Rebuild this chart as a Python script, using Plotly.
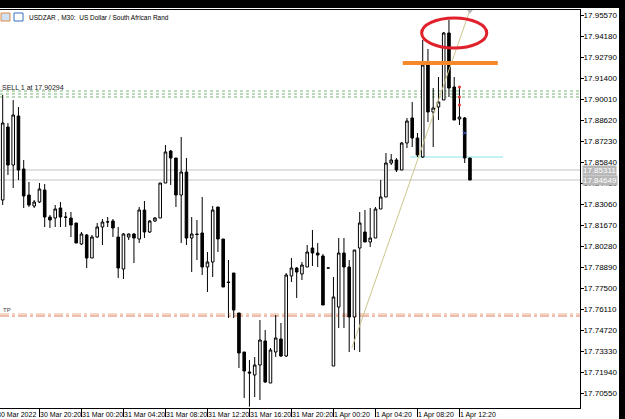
import plotly.graph_objects as go

# ---------------- data (USDZAR M30) ----------------
bar_index = list(range(90))
opens = [17.83325, 17.88157, 17.85642, 17.88885, 17.85377, 17.83656, 17.82928, 17.83193, 17.83987, 17.82200,
         17.82134, 17.82795, 17.82200, 17.82134, 17.81803, 17.80413, 17.81008, 17.79486, 17.80876, 17.81538,
         17.81869, 17.81935, 17.80876, 17.78758, 17.80876, 17.81075, 17.80744, 17.82663, 17.81207, 17.81935,
         17.82134, 17.84450, 17.86568, 17.86105, 17.83656, 17.85178, 17.80810, 17.81075, 17.81141, 17.78890,
         17.79221, 17.82862, 17.80744, 17.77897, 17.78493, 17.75846, 17.73264, 17.71940, 17.71742, 17.72404,
         17.73992, 17.71212, 17.73264, 17.74125, 17.72999, 17.78295, 17.78824, 17.78427, 17.78890, 17.80148,
         17.79817, 17.79618, 17.78824, 17.72337, 17.76243, 17.79817, 17.78890, 17.75581, 17.80148, 17.81207,
         17.80545, 17.80810, 17.82729, 17.83524, 17.85774, 17.85973, 17.85311, 17.87098, 17.88753, 17.87429,
         17.86171, 17.92261, 17.89150, 17.89481, 17.89944, 17.94379, 17.90804, 17.88686, 17.88753, 17.86105]
highs = [17.90275, 17.88422, 17.89944, 17.89481, 17.85973, 17.84516, 17.83325, 17.84450, 17.84384, 17.82332,
         17.82994, 17.83193, 17.82531, 17.82531, 17.81803, 17.81207, 17.81075, 17.81008, 17.81803, 17.82067,
         17.82200, 17.82067, 17.81538, 17.81141, 17.81100, 17.81141, 17.82862, 17.83259, 17.82001, 17.82200,
         17.84450, 17.86965, 17.86634, 17.86105, 17.87495, 17.86105, 17.82200, 17.82001, 17.83524, 17.79883,
         17.82928, 17.82862, 17.80744, 17.79354, 17.78493, 17.75846, 17.73264, 17.72735, 17.72933, 17.75382,
         17.74720, 17.73529, 17.75713, 17.75184, 17.78493, 17.79486, 17.78890, 17.79221, 17.80346, 17.81339,
         17.80479, 17.79751, 17.78824, 17.78228, 17.80810, 17.80810, 17.79354, 17.80015, 17.82531, 17.82663,
         17.82795, 17.82862, 17.84649, 17.86436, 17.86370, 17.86105, 17.87164, 17.88753, 17.89812, 17.87760,
         17.93915, 17.93320, 17.90738, 17.91466, 17.94445, 17.95239, 17.91466, 17.90804, 17.88819, 17.86105]
lows = [17.82994, 17.84980, 17.84119, 17.84649, 17.82795, 17.82862, 17.82795, 17.83126, 17.81538, 17.81472,
        17.81538, 17.81538, 17.81538, 17.80876, 17.80479, 17.80346, 17.78824, 17.79486, 17.80810, 17.80346,
        17.81538, 17.80876, 17.78162, 17.78096, 17.80677, 17.79155, 17.80479, 17.80810, 17.81141, 17.81869,
        17.82134, 17.84450, 17.84318, 17.82862, 17.80479, 17.80346, 17.78559, 17.79354, 17.78361, 17.77236,
        17.78228, 17.79883, 17.77566, 17.75515, 17.75515, 17.72205, 17.70219, 17.69650, 17.70286, 17.70087,
        17.71212, 17.71212, 17.72933, 17.72933, 17.72933, 17.77897, 17.76838, 17.78030, 17.78890, 17.78956,
        17.78890, 17.76375, 17.78824, 17.72337, 17.74853, 17.74853, 17.73264, 17.73396, 17.73264, 17.80545,
        17.80214, 17.80810, 17.82729, 17.83524, 17.85642, 17.85178, 17.85311, 17.86767, 17.86833, 17.86171,
        17.86105, 17.88488, 17.86833, 17.88620, 17.89944, 17.90143, 17.88620, 17.88289, 17.85774, 17.84649]
closes = [17.88422, 17.85642, 17.88951, 17.85311, 17.83590, 17.82994, 17.83193, 17.84053, 17.82200, 17.82001,
          17.82729, 17.82200, 17.82180, 17.81670, 17.80479, 17.81075, 17.79486, 17.80876, 17.81538, 17.81869,
          17.81880, 17.81472, 17.78824, 17.81075, 17.81075, 17.80810, 17.82663, 17.81207, 17.81935, 17.82134,
          17.84450, 17.86502, 17.86105, 17.83656, 17.85178, 17.80810, 17.81075, 17.81041, 17.78890, 17.79221,
          17.82663, 17.80744, 17.77566, 17.77864, 17.76044, 17.73198, 17.72007, 17.71874, 17.72404, 17.74058,
          17.71278, 17.73396, 17.74191, 17.72999, 17.78361, 17.78824, 17.78559, 17.79023, 17.79883, 17.79817,
          17.79685, 17.76375, 17.78824, 17.76905, 17.79817, 17.78890, 17.75581, 17.80015, 17.81803, 17.80545,
          17.80810, 17.82729, 17.83524, 17.85774, 17.85973, 17.85311, 17.87098, 17.88554, 17.87429, 17.86304,
          17.92261, 17.89150, 17.89414, 17.89812, 17.94379, 17.90738, 17.88620, 17.88819, 17.86105, 17.84649]

price_ticks = [17.95570, 17.94180, 17.92790, 17.91400, 17.90010, 17.88620, 17.87230, 17.85840, 17.84450,
               17.83060, 17.81670, 17.80280, 17.78890, 17.77500, 17.76110, 17.74720, 17.73330, 17.71940, 17.70550]
time_tick_index = [-0.5, 7, 15, 23, 31, 39, 47, 55, 63, 71, 79, 87]
time_tick_text = ["30 Mar 2022", "30 Mar 20:20", "31 Mar 00:20", "31 Mar 04:20", "31 Mar 08:20",
                  "31 Mar 12:20", "31 Mar 16:20", "31 Mar 20:20", "1 Apr 00:20", "1 Apr 04:20",
                  "1 Apr 08:20", "1 Apr 12:20"]

ask_price = 17.85311
bid_price = 17.84649
sell_levels = [17.90540, 17.90341, 17.90143]
sell_label = "SELL 1 at 17.90294"
tp_levels = [17.75779, 17.75647]
orange_level = 17.92393
orange_span = [76.2, 94.3]
cyan_level = 17.86171
cyan_span = [77.6, 95.3]
ellipse_x = [79.8, 92.2]
ellipse_y = [17.93386, 17.95371]
trend_x = [66.5, 89.0]
trend_y = [17.73529, 17.95901]
red_mark_x = [87, 87, 87]
red_mark_y = [17.90804, 17.90143, 17.89613]
blue_mark_x = [88]
blue_mark_y = [17.87760]

FONT = "Liberation Sans"
TOP_BAND = 8                      # black window band above the chart (page body background)
W, H = 625, 419 - TOP_BAND
ML, MR, MT, MB = 0, 45, 10 - TOP_BAND, 11
PW = W - ML - MR
PH = H - MT - MB

fig = go.Figure()

fig.add_trace(go.Candlestick(
    x=bar_index, open=opens, high=highs, low=lows, close=closes,
    increasing=dict(line=dict(color="black", width=1), fillcolor="white"),
    decreasing=dict(line=dict(color="black", width=1), fillcolor="black"),
    whiskerwidth=0, showlegend=False, hoverinfo="skip"))

fig.add_trace(go.Scatter(x=trend_x, y=trend_y, mode="lines",
                         line=dict(color="#cdc58a", width=1), showlegend=False, hoverinfo="skip"))
fig.add_trace(go.Scatter(x=[trend_x[1]], y=[trend_y[1] - 0.0005], mode="markers",
                         marker=dict(symbol="triangle-down", size=6, color="#b8b8b8"),
                         showlegend=False, hoverinfo="skip", cliponaxis=False))
fig.add_trace(go.Scatter(x=red_mark_x, y=red_mark_y, mode="markers",
                         marker=dict(size=3, color="#e03030"), showlegend=False, hoverinfo="skip"))
fig.add_trace(go.Scatter(x=blue_mark_x, y=blue_mark_y, mode="markers",
                         marker=dict(symbol="x-thin", size=4, line=dict(color="#4060c0", width=1)),
                         showlegend=False, hoverinfo="skip"))

shapes = []
for lv in [ask_price, bid_price]:
    shapes.append(dict(type="line", xref="paper", x0=0, x1=1, yref="y", y0=lv, y1=lv,
                       line=dict(color="#c4c4c4", width=1), layer="below"))
for lv in sell_levels:
    shapes.append(dict(type="line", xref="paper", x0=0, x1=1, yref="y", y0=lv, y1=lv,
                       line=dict(color="#78b478", width=1, dash="dot"), layer="below"))
shapes.append(dict(type="line", xref="paper", x0=0, x1=1, yref="y", y0=tp_levels[0], y1=tp_levels[0],
                   line=dict(color="#eab08a", width=1, dash="dashdot"), layer="below"))
shapes.append(dict(type="line", xref="paper", x0=0, x1=1, yref="y", y0=tp_levels[1], y1=tp_levels[1],
                   line=dict(color="#dc7a5c", width=1, dash="dashdot"), layer="below"))
shapes.append(dict(type="line", xref="x", x0=cyan_span[0], x1=cyan_span[1], yref="y", y0=cyan_level, y1=cyan_level,
                   line=dict(color="#c4f2f2", width=2), layer="below"))
shapes.append(dict(type="line", xref="x", x0=orange_span[0], x1=orange_span[1], yref="y", y0=orange_level,
                   y1=orange_level, line=dict(color="#f5892a", width=4)))
shapes.append(dict(type="circle", xref="x", x0=ellipse_x[0], x1=ellipse_x[1], yref="y", y0=ellipse_y[0],
                   y1=ellipse_y[1], line=dict(color="#e0202a", width=3)))
# right black strip
shapes.append(dict(type="rect", xref="paper", yref="paper", x0=619 / PW, x1=640 / PW,
                   y0=-0.1, y1=1.1, fillcolor="black", line=dict(width=0)))
# title icons
shapes.append(dict(type="rect", xref="paper", yref="paper", x0=1 / PW, x1=10 / PW,
                   y0=(408 - 21) / PH, y1=(408 - 13) / PH, fillcolor="#cfe2f5", line=dict(color="#e08a40", width=1)))
shapes.append(dict(type="rect", xref="paper", yref="paper", x0=14 / PW, x1=23 / PW,
                   y0=(408 - 21) / PH, y1=(408 - 13) / PH, fillcolor="white", line=dict(color="#3a70c0", width=1)))

annotations = []
annotations.append(dict(text="USDZAR , M30:  US Dollar / South African Rand", xref="paper", yref="paper",
                        x=27 / PW, y=(408 - 17) / PH, xanchor="left", yanchor="middle", showarrow=False,
                        font=dict(family=FONT, size=6.5, color="black")))
annotations.append(dict(text=sell_label, xref="paper", yref="y", x=0, y=sell_levels[0],
                        xanchor="left", yanchor="bottom", showarrow=False, yshift=-2,
                        font=dict(family=FONT, size=7, color="#202020")))
annotations.append(dict(text="TP", xref="paper", yref="y", x=1 / PW, y=tp_levels[0],
                        xanchor="left", yanchor="bottom", showarrow=False, yshift=-1,
                        font=dict(family=FONT, size=6, color="#404040")))
for lv in [ask_price, bid_price]:
    annotations.append(dict(text=f"{lv:.5f}", xref="paper", yref="y", x=1 + 2 / PW, y=lv,
                            xanchor="left", yanchor="middle", showarrow=False,
                            bgcolor="#b8b8b8", borderpad=0,
                            font=dict(family=FONT, size=8, color="white")))
for k, (ti, tt) in enumerate(zip(time_tick_index, time_tick_text)):
    annotations.append(dict(text=tt, xref="x", yref="paper", x=ti, y=0, xanchor="left", yanchor="top",
                            xshift=-5 if k == 0 else -1, yshift=-1, showarrow=False,
                            font=dict(family=FONT, size=7, color="black")))

fig.update_layout(
    width=W, height=H, margin=dict(l=ML, r=MR, t=MT, b=MB),
    paper_bgcolor="white", plot_bgcolor="white",
    shapes=shapes, annotations=annotations, showlegend=False,
    font=dict(family=FONT, size=8, color="black"),
    xaxis=dict(range=[-0.514, 109.96], showgrid=False, zeroline=False, rangeslider=dict(visible=False),
               tickvals=time_tick_index[1:], ticks="outside", ticklen=8, tickcolor="black",
               showticklabels=False, showline=True, linecolor="black", linewidth=1, mirror=True),
    yaxis=dict(range=[17.69558, 17.95901], side="right", showgrid=False, zeroline=False,
               tickvals=price_ticks, ticktext=[f"{v:.5f}" for v in price_ticks],
               ticks="outside", ticklen=3, tickcolor="black", showline=True, linecolor="black",
               linewidth=1, mirror=True, ticklabelstandoff=-2,
               tickfont=dict(family=FONT, size=8, color="black")),
)

fig.write_html("out.html", config={"displayModeBar": False},
               post_script=("document.body.style.margin='0';"
                            "document.body.style.paddingTop='%dpx';"
                            "document.body.style.background='black';"
                            "document.body.style.overflow='hidden';" % TOP_BAND))
